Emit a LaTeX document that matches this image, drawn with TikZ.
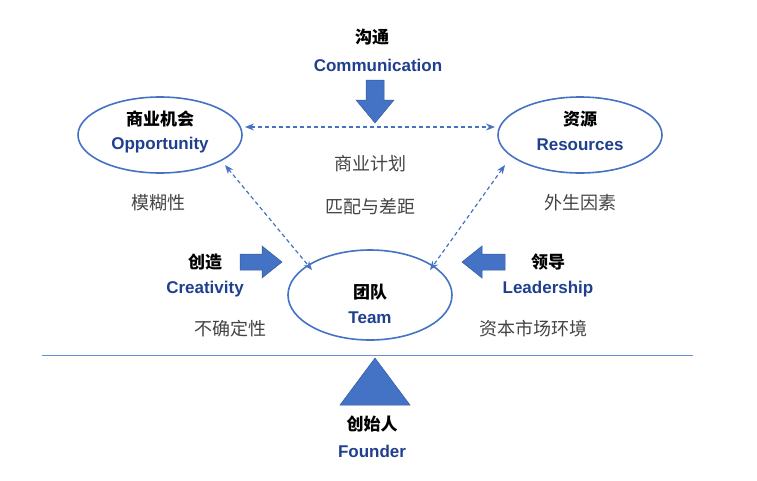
\documentclass[tikz,border=0pt]{standalone}
\usepackage{fontspec}
\setmainfont{Liberation Sans}
\newfontfamily\cjk{Noto Sans CJK SC}
\usetikzlibrary{arrows.meta}
\definecolor{bl}{HTML}{4472C4}
\definecolor{tb}{HTML}{1F3F8F}
\definecolor{gr}{HTML}{444444}
\begin{document}
\begin{tikzpicture}[x=1pt,y=-1pt,
 ell/.style={draw=bl,line width=1.6pt,fill=white},
 dsh/.style={draw=bl,dash pattern=on 4pt off 3pt,line width=1.2pt,{Stealth[length=9pt,width=7pt]}-{Stealth[length=9pt,width=7pt]}},
 zh/.style={font=\cjk\bfseries\fontsize{17}{17}\selectfont,text=black},
 en/.style={font=\bfseries\fontsize{17}{17}\selectfont,text=tb},
 g/.style={font=\cjk\fontsize{18}{18}\selectfont,text=gr},
 blk/.style={fill=bl,draw=bl!80!black,line width=0.5pt}]
\useasboundingbox (0,0) rectangle (757,480);
\draw[bl!80,line width=1pt] (42,355) -- (693,355);
\filldraw[ell] (160,135) ellipse [x radius=82,y radius=38];
\filldraw[ell] (580,135) ellipse [x radius=82,y radius=38];
\filldraw[ell] (370,295) ellipse [x radius=82,y radius=45];
\node[zh] (oz) at (160,119) {商业机会};
\node[en] (oe) at (160,145) {Opportunity};
\node[zh] (rz) at (580,119) {资源};
\node[en] (re) at (580,145) {Resources};
\node[zh] (tz) at (370,292) {团队};
\node[en] (te) at (370,318) {Team};
\coordinate (a1) at (245,127); \coordinate (a2) at (495,127);
\coordinate (b1) at (225,165); \coordinate (b2) at (312,270);
\coordinate (c1) at (505,165); \coordinate (c2) at (430,270);
\draw[dsh] (a1) -- (a2);
\draw[dsh] (b1) -- (b2);
\draw[dsh] (c1) -- (c2);
\node[zh] (cz) at (372,37) {沟通};
\node[en] (ce) at (378,65) {Communication};
\path[blk] (366,80) -- (384,80) -- (384,100) -- (394,100) -- (375,123) -- (356,100) -- (366,100) -- cycle;
\node[g] (p1) at (370,164) {商业计划};
\node[g] (p2) at (370,207) {匹配与差距};
\node[g] (m) at (158,203) {模糊性};
\node[g] (w) at (580,203) {外生因素};
\node[zh] (crz) at (205,262) {创造};
\node[en] (cre) at (205,289) {Creativity};
\path[blk] (240,254) -- (262,254) -- (262,246) -- (282,262) -- (262,278) -- (262,270) -- (240,270) -- cycle;
\node[zh] (lz) at (548,262) {领导};
\node[en] (le) at (548,289) {Leadership};
\path[blk] (505,254) -- (482,254) -- (482,246) -- (462,262) -- (482,278) -- (482,270) -- (505,270) -- cycle;
\node[g] (u) at (230,329) {不确定性};
\node[g] (k) at (533,329) {资本市场环境};
\path[blk] (375,358) -- (410,405) -- (340,405) -- cycle;
\node[zh] (fz) at (372,424) {创始人};
\node[en] (fe) at (372,451) {Founder};
\end{tikzpicture}
\end{document}
